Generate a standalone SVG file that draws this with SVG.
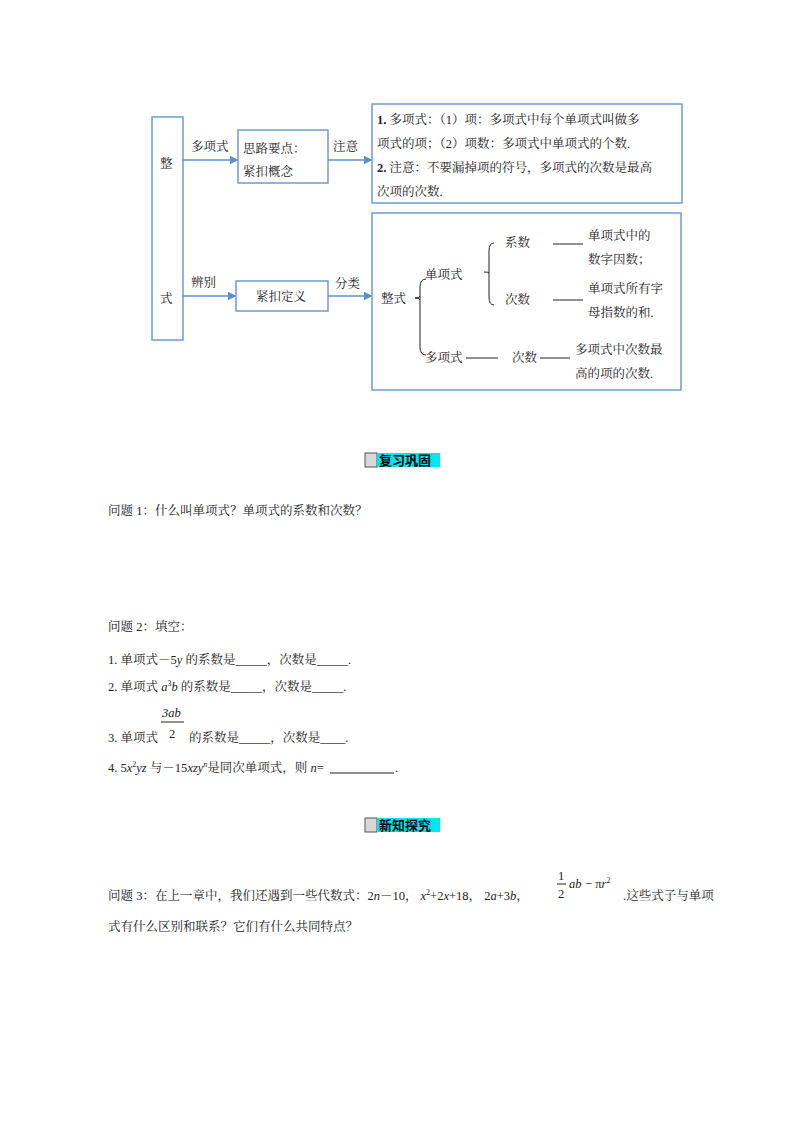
<svg xmlns="http://www.w3.org/2000/svg" width="800" height="1132" viewBox="0 0 800 1132">
<defs>
<style>
text{font-family:"Liberation Serif","Noto Serif CJK SC","Noto Sans CJK SC",serif;font-size:12.5px;fill:#222}
.b{fill:#fff;stroke:#6d9ad6;stroke-width:1.5}
.c{stroke:#5b8fd6;stroke-width:1.5;fill:none}
.k{stroke:#222;stroke-width:1;fill:none}
.h{font-family:"Noto Sans CJK SC",sans-serif;font-weight:bold;font-size:13px;fill:#000}
</style>
<marker id="a" markerWidth="6" markerHeight="6" refX="5" refY="3" orient="auto"><path d="M0,0 L6,3 L0,6 z" fill="#5b8fd6"/></marker>
</defs>
<rect width="800" height="1132" fill="#fff"/>
<g id="n1"><rect class="b" x="152" y="117" width="31" height="223"/><text x="160" y="168" font-size="15">整</text><text x="160" y="303" font-size="15">式</text></g>
<g id="n2"><rect class="b" x="238" y="130" width="90" height="53"/><text x="243" y="153">思路要点：</text><text x="243" y="176">紧扣概念</text></g>
<g id="n3"><rect class="b" x="372" y="104" width="310" height="99"/>
<text x="377" y="124"><tspan font-weight="bold">1.</tspan> 多项式：（1）项：多项式中每个单项式叫做多</text>
<text x="377" y="148">项式的项；（2）项数：多项式中单项式的个数.</text>
<text x="377" y="172"><tspan font-weight="bold">2.</tspan> 注意：不要漏掉项的符号，多项式的次数是最高</text>
<text x="377" y="196">次项的次数.</text></g>
<g id="n4"><rect class="b" x="236" y="281" width="92" height="30"/><text x="256" y="301">紧扣定义</text></g>
<g id="n5"><rect class="b" x="372" y="213" width="309" height="177"/>
<text x="381" y="303">整式</text>
<text x="425" y="279">单项式</text>
<text x="505" y="247">系数</text>
<text x="505" y="304">次数</text>
<text x="588" y="240">单项式中的</text>
<text x="588" y="264">数字因数；</text>
<text x="588" y="293">单项式所有字</text>
<text x="588" y="317">母指数的和.</text>
<text x="425" y="362">多项式</text>
<text x="512" y="362">次数</text>
<text x="575" y="354">多项式中次数最</text>
<text x="575" y="378">高的项的次数.</text>
<path class="k" d="M426,279 q-6,0 -6,8 v60 q0,8 6,8 M420,300 q0,-2 -5,-2 q5,0 5,-2 M494,243 q-5,0 -5,8 v46 q0,8 5,8 M489,273 q0,-1 -5,-1"/>
<path class="k" d="M553,244 h30 M553,300 h30 M466,358 h32 M540,358 h30"/>
</g>
<g id="conn">
<path class="c" d="M183,160 H237" marker-end="url(#a)"/>
<path class="c" d="M328,160 H371" marker-end="url(#a)"/>
<path class="c" d="M183,296 H235" marker-end="url(#a)"/>
<path class="c" d="M328,296 H371" marker-end="url(#a)"/>
<text x="191" y="151">多项式</text><text x="333" y="151">注意</text>
<text x="191" y="287">辨别</text><text x="335" y="288">分类</text>
</g>
<g id="h1"><rect x="365" y="453" width="12" height="14" fill="#d8d8d8" stroke="#555"/><rect x="377" y="453" width="63" height="14" fill="#00e5ee"/><text class="h" x="379" y="465">复习巩固</text></g>
<text x="108" y="515">问题 1：什么叫单项式？单项式的系数和次数？</text>
<text x="108" y="631">问题 2：填空：</text>
<text x="108" y="664">1. 单项式－5<tspan font-style="italic">y</tspan> 的系数是_____，次数是_____.</text>
<text x="108" y="691">2. 单项式 <tspan font-style="italic">a</tspan><tspan font-size="8" dy="-5">3</tspan><tspan font-style="italic" dy="5">b</tspan> 的系数是_____，次数是_____.</text>
<text x="162" y="717" font-style="italic">3ab</text><line x1="161" y1="722" x2="184" y2="722" stroke="#222"/><text x="169" y="738">2</text>
<text x="108" y="742">3. 单项式</text><text x="189" y="742">的系数是_____，次数是____.</text>
<text x="108" y="772">4. 5<tspan font-style="italic">x</tspan><tspan font-size="8" dy="-5">2</tspan><tspan font-style="italic" dy="5">yz</tspan> 与－15<tspan font-style="italic">xzy</tspan><tspan font-size="8" font-style="italic" dy="-5">n</tspan><tspan dy="5">是同次单项式，则 </tspan><tspan font-style="italic">n</tspan>=</text>
<line x1="330" y1="773" x2="394" y2="773" stroke="#222"/><text x="395" y="772">.</text>
<g id="h2"><rect x="365" y="818" width="12" height="14" fill="#d8d8d8" stroke="#555"/><rect x="377" y="818" width="63" height="14" fill="#00e5ee"/><text class="h" x="379" y="830">新知探究</text></g>
<text x="108" y="900">问题 3：在上一章中，我们还遇到一些代数式：2<tspan font-style="italic">n</tspan>－10， <tspan font-style="italic">x</tspan><tspan font-size="8" dy="-5">2</tspan><tspan dy="5">+2</tspan><tspan font-style="italic">x</tspan>+18， 2<tspan font-style="italic">a</tspan>+3<tspan font-style="italic">b</tspan>，</text>
<text x="558" y="880">1</text><line x1="557" y1="884" x2="566" y2="884" stroke="#222"/><text x="558" y="898">2</text>
<text x="569" y="888" font-style="italic">ab</text><text x="585" y="888">− π<tspan font-style="italic">r</tspan><tspan font-size="8" dy="-5">2</tspan></text>
<text x="623" y="900">.这些式子与单项</text>
<text x="108" y="931">式有什么区别和联系？它们有什么共同特点？</text>
</svg>
